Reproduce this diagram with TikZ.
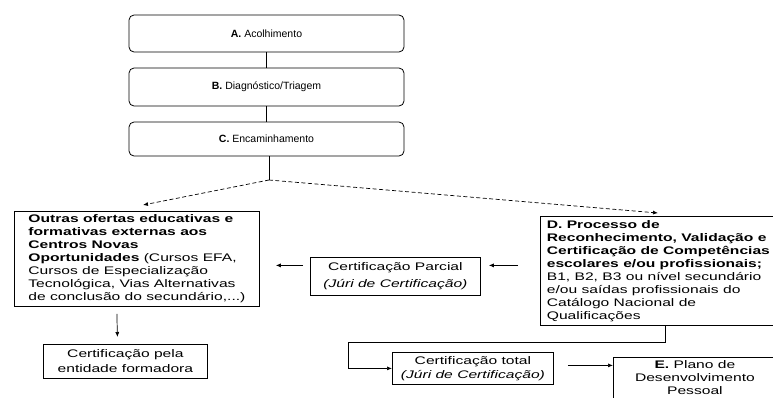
\documentclass[tikz,border=0pt]{standalone}
\usepackage{fontspec}
\setmainfont{Liberation Sans}
\newfontfamily\widefont{Liberation Sans}[FakeStretch=1.42]
\usetikzlibrary{arrows.meta,calc}

\begin{document}
\begin{tikzpicture}[x=1pt,y=-1pt,
  stage/.style={draw,rounded corners=5pt,line width=0.8pt,minimum width=275pt,inner sep=0pt,font=\fontsize{10.5}{12}\selectfont},
  box/.style={draw,line width=0.8pt,inner sep=0pt,anchor=north west,font=\widefont\fontsize{11}{13}\selectfont},
  arr/.style={-{Latex[length=5pt,width=4pt]},line width=0.7pt},
  dashline/.style={dash pattern=on 4pt off 2.5pt}]
\useasboundingbox[fill=white] (0,0) rectangle (773,397);

% top stages
\node[stage,minimum height=37pt] (A) at (266.5,33.5) {\textbf{A.} Acolhimento};
\node[stage,minimum height=38pt] (B) at (266.5,87) {\textbf{B.} Diagnóstico/Triagem};
\node[stage,minimum height=34pt] (C) at (266.5,139) {\textbf{C.} Encaminhamento};
\draw[line width=1.3pt] (A) -- (B);
\draw[line width=1.3pt] (B) -- (C);

% split
\coordinate (split) at (269,180);
\coordinate (lt) at (143,205);
\coordinate (rt) at (658,213);
\draw[line width=0.7pt] (C.south -| split) -- (split);
\draw[arr,dashline] (split) -- (lt);
\draw[arr,dashline] (split) -- (rt);

% boxes
\node[box,align=left,minimum width=245pt,minimum height=95pt] (outras) at (14,211)
 {\textbf{Outras ofertas educativas e}\\
  \textbf{formativas externas aos}\\
  \textbf{Centros Novas}\\
  \textbf{Oportunidades} (Cursos EFA,\\
  Cursos de Especialização\\
  Tecnológica, Vias Alternativas\\
  de conclusão do secundário,...)};

\node[box,align=left,minimum width=236pt,minimum height=109pt] (D) at (540,216)
 {\textbf{D. Processo de}\\
  \textbf{Reconhecimento, Validação e}\\
  \textbf{Certificação de Competências}\\
  \textbf{escolares e/ou profissionais;}\\
  B1, B2, B3 ou nível secundário\\
  e/ou saídas profissionais do\\
  Catálogo Nacional de\\
  Qualificações};

\node[box,align=center,minimum width=170pt,minimum height=38pt] (parcial) at (310,257)
 {Certificação Parcial\\[4pt]\textit{(Júri de Certificação)}};

\node[box,align=center,minimum width=164pt,minimum height=34pt] (cpela) at (43,344)
 {Certificação pela\\[2pt]entidade formadora};

\node[box,align=center,minimum width=161pt,minimum height=32pt] (total) at (392,352)
 {Certificação total\\[1pt]\textit{(Júri de Certificação)}};

\node[box,align=center,minimum width=163pt,minimum height=41pt] (E) at (613,357)
 {\textbf{E.} Plano de\\Desenvolvimento\\Pessoal};

% connectors
\draw[arr] ([xshift=-20pt,yshift=-7pt]outras.south) -- ([xshift=-8pt,yshift=7pt]cpela.north);
\draw[arr] ($(parcial.west)+(-7,-11)$) -- ($(outras.east |- parcial.west)+(16,-11)$);
\draw[arr] ($(D.west |- parcial.east)+(-22,-11)$) -- ($(parcial.east)+(8,-11)$);
\coordinate (bend) at (348,342);
\draw[arr] ($(D.south west)+(125,0)$) |- (bend) |- (total.west);
\draw[arr] ($(total.east)+(14,-3)$) -- ($(total.east -| E.west)+(0,-3)$);
\end{tikzpicture}
\end{document}
